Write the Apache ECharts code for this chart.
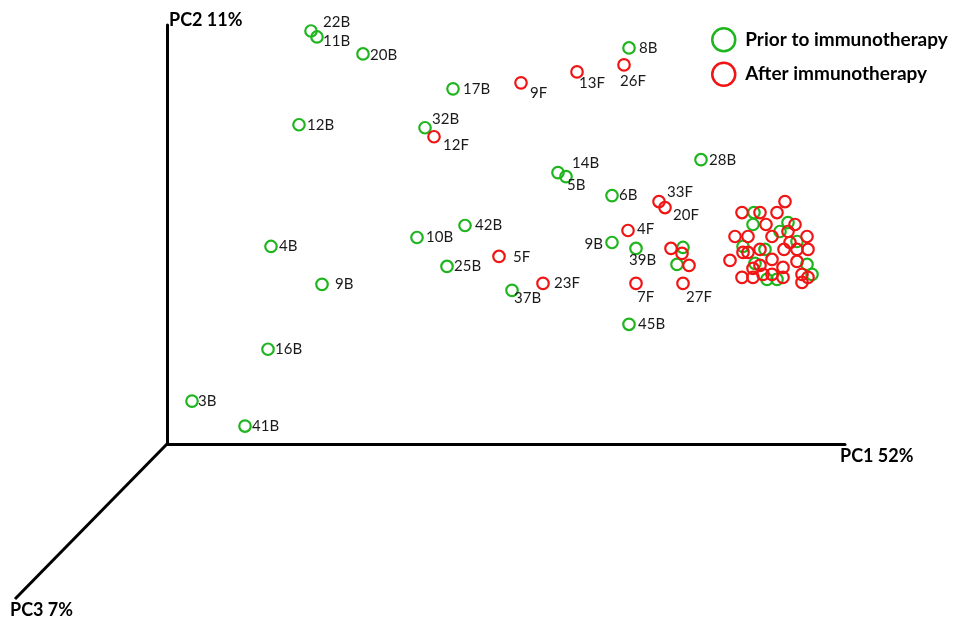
<!DOCTYPE html>
<html><head><meta charset="utf-8">
<script src="https://cdn.jsdelivr.net/npm/echarts@6/dist/echarts.min.js"></script>
<style>html,body{margin:0;padding:0;background:#fff}#c{width:960px;height:620px}</style>
</head><body><div id="c"></div>
<script>
// ---- data (arbitrary PC score units) ----
const axisNames = ['PC1 52%', 'PC2 11%', 'PC3 7%'];
const seriesNames = ['Prior to immunotherapy', 'After immunotherapy'];

const priorLabels = ['22B','11B','20B','17B','12B','32B','8B','14B','5B','6B','28B','42B','10B','9B','39B','25B','37B','45B','4B','9B','16B','3B','41B',
  '','', '','','','','','','','','','','',''];
const priorPC1 = [14.4,15.0,19.6,28.6,13.2,25.8,46.2,39.1,39.9,44.5,53.4,29.8,25.0,44.5,46.9,28.0,34.5,46.2,10.4,15.5,10.1,2.5,7.8,
  51.6,51.0, 58.7,58.6,62.1,61.3,57.6,59.8,63.0,58.8,64.0,60.0,61.0,64.5];
const priorPC2 = [41.4,40.8,39.1,35.6,32.0,31.7,39.7,27.2,26.8,24.9,28.5,21.9,20.7,20.2,19.6,17.8,15.4,12.0,19.8,16.0,9.5,4.3,1.8,
  19.7,18.0, 23.2,22.0,22.2,21.3,19.8,19.5,20.3,18.1,18.0,16.5,16.5,17.0];

const afterLabels = ['9F','13F','26F','12F','33F','20F','4F','5F','23F','7F','27F',
  '','','', '','','','','','','','','','','','','','','','','','','','','','','','','','','','','','','',''];
const afterPC1 = [35.4,41.0,45.7,26.7,49.2,49.8,46.1,33.2,37.6,46.9,51.6,
  50.4,51.5,52.2,
  61.8,57.5,59.3,61.0,59.9,62.8,62.1,56.8,58.1,60.5,64.0,62.3,57.6,58.1,59.3,61.7,63.0,64.1,56.3,60.5,63.0,58.6,59.3,61.6,57.5,58.6,59.6,60.5,61.6,63.5,64.1,63.5];
const afterPC2 = [36.2,37.3,38.0,30.8,24.3,23.7,21.4,18.8,16.1,16.1,16.1,
  19.6,19.1,17.9,
  24.3,23.2,23.2,23.2,22.0,22.0,21.3,20.8,20.8,20.8,20.8,20.2,19.2,19.2,19.5,19.5,19.5,19.5,18.4,18.5,18.3,17.6,17.9,17.7,16.7,16.7,17.0,17.0,16.7,17.0,16.7,16.2];

// ---- label placement (style only): [dx, dy, align] ----
const priorLabelPlace = [[12,-9],[6,4],[7,1],[10,0],[8,0],[7,-9],[10,0],[14,-9],[1,9],[7,0],[8,0],[10,0],[9,0],[-9,2,'right'],[-7,12],[7,0],[2,8],[9,0],[8,0],[13,0],[7,0],[6,0],[7,0]];
const afterLabelPlace = [[9,10],[2,11],[-4,16],[9,8],[8,-9],[8,8],[9,-1],[14,1],[11,0],[1,14],[3,14]];

const GREEN = '#1fb51f', RED = '#f01414';
const FONT = 'Lato';

function build(labels, xs, ys, place) {
  return xs.map((x, i) => {
    const item = { value: [x, ys[i]], name: labels[i] };
    const p = place[i];
    if (labels[i] && p) {
      item.label = { show: true, position: 'inside', align: p[2] || 'left', verticalAlign: 'middle', offset: [p[0], p[1]] };
    }
    return item;
  });
}

const chart = echarts.init(document.getElementById('c'), null, { renderer: 'canvas' });
const hiddenAxisBits = { axisTick: { show: false }, axisLabel: { show: false }, splitLine: { show: false } };
chart.setOption({
  animation: false,
  backgroundColor: '#fff',
  grid: { left: 167, top: 25, width: 678, height: 419, containLabel: false, outerBoundsMode: 'none' },
  xAxis: Object.assign({
    type: 'value', min: 0, max: 67.8,
    axisLine: { show: true, onZero: false, lineStyle: { color: '#000', width: 3 } },
    name: axisNames[0], nameLocation: 'end', nameGap: -5,
    nameTextStyle: { fontFamily: FONT, fontWeight: 'bold', fontSize: 18, color: '#000', align: 'left', verticalAlign: 'top', padding: [3, 0, 0, 0] }
  }, hiddenAxisBits),
  yAxis: Object.assign({
    type: 'value', min: 0, max: 42,
    axisLine: { show: true, onZero: false, lineStyle: { color: '#000', width: 3 } },
    name: axisNames[1], nameLocation: 'end', nameGap: 5,
    nameTextStyle: { fontFamily: FONT, fontWeight: 'bold', fontSize: 18, color: '#000', align: 'left', verticalAlign: 'middle', padding: [0, 0, 0, 2] }
  }, hiddenAxisBits),
  legend: {
    orient: 'vertical', left: 711, top: 27, padding: 0, itemWidth: 23, itemHeight: 23, itemGap: 9,
    icon: 'circle',
    itemStyle: { color: 'rgba(0,0,0,0)', borderWidth: 2.5 },
    textStyle: { fontFamily: FONT, fontWeight: 'bold', fontSize: 19, color: '#000', padding: [0, 0, 0, 5] },
    data: seriesNames
  },
  series: [
    {
      name: seriesNames[0], type: 'scatter', symbol: 'circle', symbolSize: 11.5,
      itemStyle: { color: 'rgba(0,0,0,0)', borderColor: GREEN, borderWidth: 2.2, opacity: 1 },
      label: { show: false, formatter: '{b}', color: '#1a1a1a', fontFamily: FONT, fontSize: 15 },
      emphasis: { disabled: true },
      data: build(priorLabels, priorPC1, priorPC2, priorLabelPlace)
    },
    {
      name: seriesNames[1], type: 'scatter', symbol: 'circle', symbolSize: 11.5,
      itemStyle: { color: 'rgba(0,0,0,0)', borderColor: RED, borderWidth: 2.2, opacity: 1 },
      label: { show: false, formatter: '{b}', color: '#1a1a1a', fontFamily: FONT, fontSize: 15 },
      emphasis: { disabled: true },
      data: build(afterLabels, afterPC1, afterPC2, afterLabelPlace)
    }
  ]
});

// third (depth) axis drawn from the origin of the PC1/PC2 axes
const o = chart.convertToPixel({ gridIndex: 0 }, [0, 0]);
const end = [o[0] - 152, o[1] + 155];
chart.setOption({
  graphic: [
    { type: 'line', shape: { x1: o[0], y1: o[1], x2: end[0], y2: end[1] }, style: { stroke: '#000', lineWidth: 3 } },
    { type: 'text', x: end[0] - 5, y: end[1] + 11, style: { text: axisNames[2], font: 'bold 18px ' + FONT, fill: '#000', verticalAlign: 'middle' } }
  ]
});
</script>
</body></html>
